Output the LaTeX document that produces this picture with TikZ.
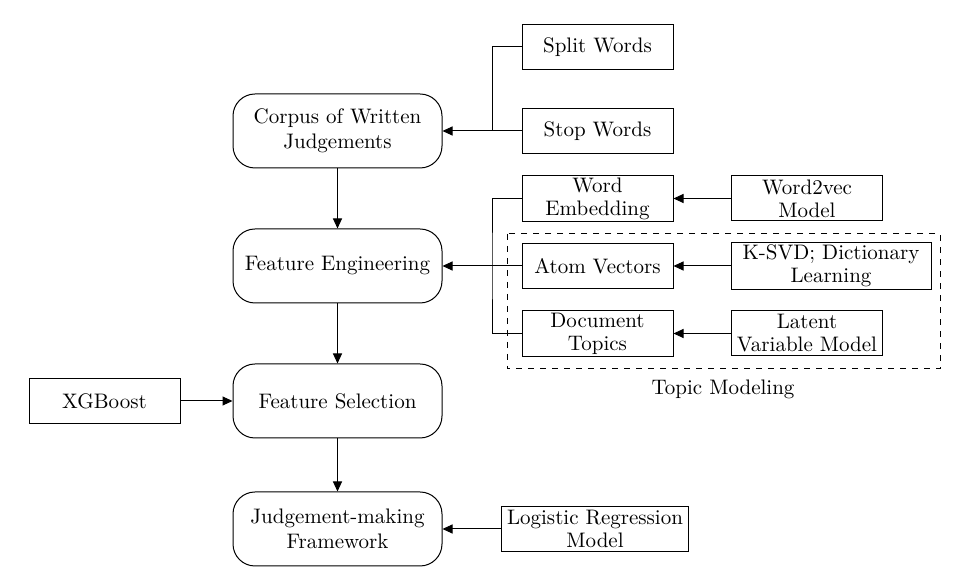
\documentclass[tikz,border=0pt]{standalone}
\usepackage{xcolor}
\usepackage{tikz}
\usetikzlibrary{arrows.meta}

\begin{document}
\begin{tikzpicture}[x=0.5pt,y=-0.5pt,
  proc/.style={draw, rounded corners=11pt, minimum width=104.5pt, minimum height=37pt, align=center, font=\fontsize{10.5}{12.5}\selectfont, line width=0.5pt},
  tool/.style={draw, minimum width=75.5pt, minimum height=22.5pt, inner sep=1pt, align=center, font=\fontsize{10.5}{11.5}\selectfont, line width=0.5pt},
  arr/.style={-{Triangle[length=5pt,width=4.5pt]}, line width=0.5pt},
  wire/.style={line width=0.5pt}]
\useasboundingbox (0,0) rectangle (955,581);

% main column
\node[proc] (corpus) at (337.5,131) {Corpus of Written\\Judgements};
\node[proc] (feateng) at (337.5,266) {Feature Engineering};
\node[proc] (featsel) at (337.5,401) {Feature Selection};
\node[proc] (judge) at (337.5,529) {Judgement-making\\Framework};

% preprocessing
\node[tool] (split) at (597.5,47) {Split Words};
\node[tool] (stop) at (597.5,131) {Stop Words};
\coordinate (jc) at (492,131);

% features
\node[tool] (embed) at (597.5,198.5) {Word\\Embedding};
\node[tool] (atom) at (597.5,266) {Atom Vectors};
\node[tool] (topics) at (597.5,333.5) {Document\\Topics};
\node[tool] (w2v) at (807,198.5) {Word2vec\\Model};
\node[tool, minimum width=100pt] (ksvd) at (831,266) {K-SVD; Dictionary\\Learning};
\node[tool] (latent) at (807,333.5) {Latent\\Variable Model};
\coordinate (jf) at (492,266);

\draw[dashed, line width=0.5pt] (507,234) rectangle (940,369);
\node[font=\fontsize{10.5}{12}\selectfont] (tm) at (723,389) {Topic Modeling};

\node[tool] (xgb) at (104.5,401) {XGBoost};
\node[tool, minimum width=93.5pt] (logreg) at (595,529) {Logistic Regression\\Model};

% connectors
\draw[arr] (corpus) -- (feateng);
\draw[arr] (feateng) -- (featsel);
\draw[arr] (featsel) -- (judge);

\draw[arr] (stop.west) -- (corpus.east);
\draw[wire] (split.west) -| (jc);

\draw[arr] (atom.west) -- (feateng.east);
\draw[wire] (embed.west) -| (jf) |- (topics.west);

\draw[arr] (w2v) -- (embed);
\draw[arr] (ksvd) -- (atom);
\draw[arr] (latent) -- (topics);

\draw[arr] (xgb) -- (featsel);
\draw[arr] (logreg) -- (judge);
\end{tikzpicture}
\end{document}
